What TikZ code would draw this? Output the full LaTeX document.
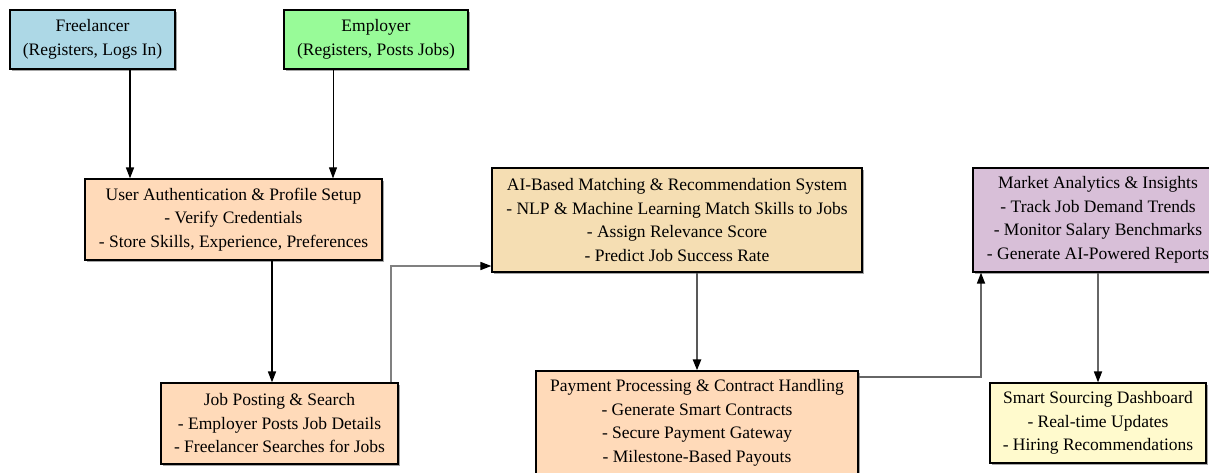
\documentclass[tikz,border=0pt]{standalone}
\usepackage{fontspec}
\setmainfont{Liberation Serif}
\usetikzlibrary{arrows.meta,shadows}

\definecolor{lightblue}{HTML}{ADD8E6}
\definecolor{palegreen}{HTML}{98FB98}
\definecolor{peach}{HTML}{FFDAB9}
\definecolor{wheat}{HTML}{F5DEB3}
\definecolor{thistle}{HTML}{D8BFD8}
\definecolor{lemon}{HTML}{FFFACD}

\tikzset{
  box/.style={draw=black, line width=1.2pt, align=center, inner sep=4pt,
    font=\fontsize{17.5}{23.5}\selectfont,
    drop shadow={shadow xshift=1.5pt, shadow yshift=-1.5pt, fill=gray!70, opacity=1}},
  flow/.style={line width=1.6pt, -{Triangle[length=11pt,width=8pt,black]}},
}

\begin{document}
\begin{tikzpicture}[x=1pt,y=-1pt]
    \clip (0,0) rectangle (1209,472);

    % users
    \node[box, fill=lightblue, minimum width=165, minimum height=59] (free) at (92.5,39.5)
        {Freelancer\\(Registers, Logs In)};
    \node[box, fill=palegreen, minimum width=184, minimum height=59] (emp) at (376,39.5)
        {Employer\\(Registers, Posts Jobs)};

    % platform steps
    \node[box, fill=peach, minimum width=297, minimum height=81] (auth) at (233.5,219.5)
        {User Authentication \& Profile Setup\\- Verify Credentials\\- Store Skills, Experience, Preferences};
    \node[box, fill=peach, minimum width=237, minimum height=81] (job) at (279.5,423.5)
        {Job Posting \& Search\\- Employer Posts Job Details\\- Freelancer Searches for Jobs};
    \node[box, fill=wheat, minimum width=370, minimum height=104] (ai) at (677,220)
        {AI-Based Matching \& Recommendation System\\- NLP \& Machine Learning Match Skills to Jobs\\- Assign Relevance Score\\- Predict Job Success Rate};
    \node[box, fill=peach, minimum width=322, minimum height=104] (pay) at (697,423)
        {Payment Processing \& Contract Handling\\- Generate Smart Contracts\\- Secure Payment Gateway\\- Milestone-Based Payouts};
    \node[box, fill=thistle, minimum width=250, minimum height=104] (market) at (1098,220)
        {Market Analytics \& Insights\\- Track Job Demand Trends\\- Monitor Salary Benchmarks\\- Generate AI-Powered Reports};
    \node[box, fill=lemon, minimum width=216, minimum height=80] (smart) at (1098,423)
        {Smart Sourcing Dashboard\\- Real-time Updates\\- Hiring Recommendations};

    % connectors
    \draw[flow] ([xshift=37.5pt]free.south) -- ([xshift=-103.5pt]auth.north);
    \draw[flow, line width=0.9pt] ([xshift=-43pt]emp.south) -- ([xshift=99.5pt]auth.north);
    \draw[flow] ([xshift=38.5pt]auth.south) -- ([xshift=-7.5pt]job.north);
    \draw[flow, gray] ([xshift=111.5pt]job.north) |- ([yshift=-46pt]ai.west);
    \draw[flow, line width=2.4pt, black!65] ([xshift=20pt]ai.south) -- (pay.north);
    \draw[flow, gray!80!black] ([yshift=46pt]pay.east) -| ([xshift=-117pt]market.south);
    \draw[flow, gray!80!black] (market.south) -- (smart.north);
\end{tikzpicture}
\end{document}
